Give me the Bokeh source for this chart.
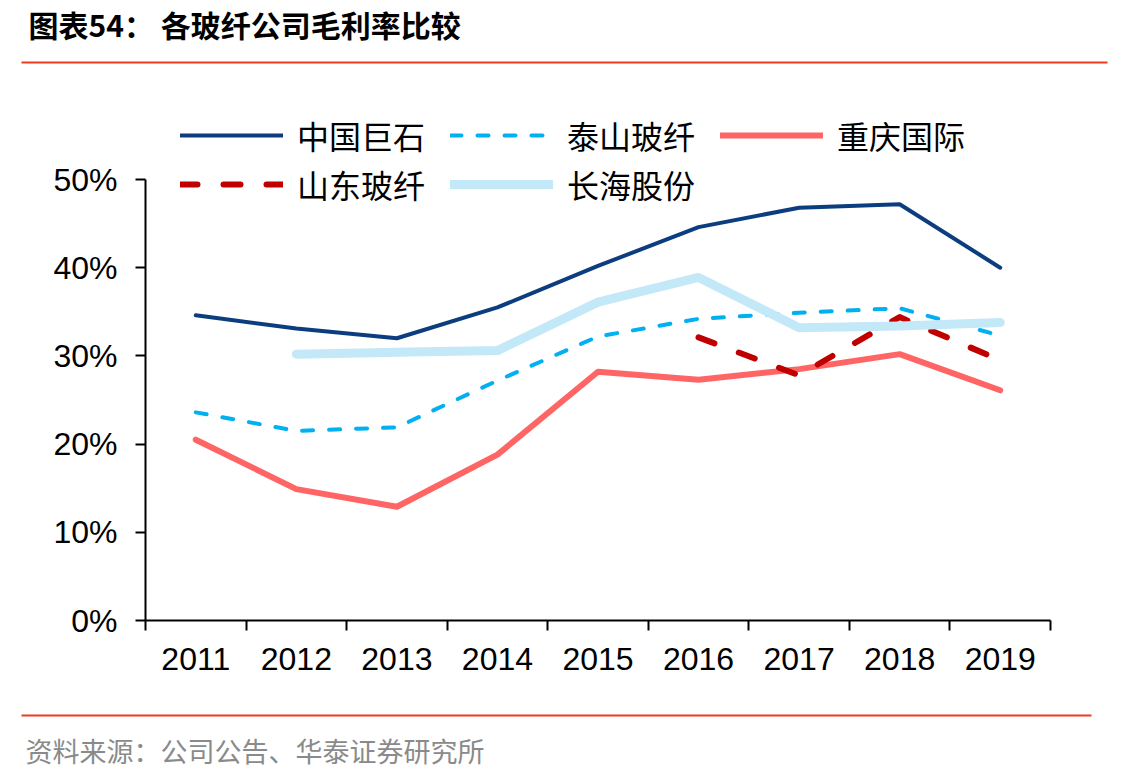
from bokeh.plotting import figure
from bokeh.layouts import column
from bokeh.models import (Range1d, FixedTicker, NumeralTickFormatter, Legend, LegendItem)
from bokeh.core.properties import value
from bokeh.embed import file_html
from bokeh.resources import INLINE

years = ["2011", "2012", "2013", "2014", "2015", "2016", "2017", "2018", "2019"]
jushi = [0.346, 0.331, 0.320, 0.355, 0.402, 0.446, 0.468, 0.472, 0.400]
taishan = [0.236, 0.215, 0.219, 0.272, 0.322, 0.342, 0.349, 0.354, 0.323]
chongqing = [0.205, 0.149, 0.129, 0.188, 0.282, 0.273, 0.285, 0.302, 0.261]
shandong = [None, None, None, None, None, 0.321, 0.278, 0.344, 0.295]
changhai = [None, 0.302, 0.304, 0.306, 0.361, 0.389, 0.332, 0.334, 0.338]
names = ["中国巨石", "泰山玻纤", "重庆国际", "山东玻纤", "长海股份"]
y_ticks = [0.0, 0.1, 0.2, 0.3, 0.4, 0.5]

title_text = "图表54：   各玻纤公司毛利率比较"
source_text = "资料来源：公司公告、华泰证券研究所"

CJK = "Noto Sans CJK SC"
LAT = "Liberation Sans"
RED = "#f03a1e"
W = 1137


def blank(h):
    f = figure(width=W, height=h, output_backend="svg", toolbar_location=None,
               x_range=Range1d(0, W), y_range=Range1d(h, 0),
               x_axis_location=None, y_axis_location=None,
               min_border=0, title=None)
    f.outline_line_color = None
    f.xgrid.visible = False
    f.ygrid.visible = False
    f.border_fill_color = "white"
    f.background_fill_color = "white"
    f.frame_align = False
    return f


# header: title + red rule
top = blank(70)
top.text(x=[28], y=[23], text=[title_text], text_font=value(CJK),
         text_font_size="30px", text_font_style="bold", text_color="black",
         text_baseline="middle", text_align="left")
top.segment(x0=[21], y0=[62], x1=[1107], y1=[62], line_color=RED, line_width=2)

# main chart
p = figure(width=W, height=640, output_backend="svg", toolbar_location=None,
           x_range=Range1d(0, len(years)), y_range=Range1d(0, 520 / 882),
           min_border_left=145, min_border_right=87, min_border_top=30,
           min_border_bottom=90, title=None)
p.outline_line_color = None
p.xgrid.visible = False
p.ygrid.visible = False
p.background_fill_color = "white"
p.border_fill_color = "white"
p.frame_align = False

xs = [i + 0.5 for i in range(len(years))]


def seg(vals):
    return [float("nan") if v is None else v for v in vals]


r1 = p.line(xs, jushi, line_color="#0c3d7e", line_width=4, line_join="round",
            line_cap="round")
r2 = p.line(xs, taishan, line_color="#00b0f0", line_width=4, line_dash="11 16",
            line_cap="round", line_join="round")
r3 = p.line(xs, chongqing, line_color="#ff6565", line_width=6, line_join="round",
            line_cap="round")
r4 = p.line(xs, seg(shandong), line_color="#c00000", line_width=6, line_dash="17 26",
            line_cap="round", line_join="round")
r5 = p.line(xs, seg(changhai), line_color="#c3e8f8", line_width=9, line_join="round",
            line_cap="round")

xa = p.xaxis[0]
xa.ticker = FixedTicker(ticks=xs, minor_ticks=list(range(len(years) + 1)))
xa.major_label_overrides = {x: y for x, y in zip(xs, years)}
xa.major_tick_out = 0
xa.major_tick_in = 0
xa.minor_tick_out = 10
xa.minor_tick_in = 0
xa.minor_tick_line_color = "black"
xa.minor_tick_line_width = 2
xa.axis_line_width = 2
xa.axis_line_color = "black"
xa.major_label_text_font = LAT
xa.major_label_text_font_size = "32px"
xa.major_label_text_color = "black"
xa.major_label_standoff = 17

ya = p.yaxis[0]
ya.ticker = FixedTicker(ticks=y_ticks, minor_ticks=[])
ya.formatter = NumeralTickFormatter(format="0%")
ya.bounds = (0, 0.5)
ya.major_tick_out = 10
ya.major_tick_in = 0
ya.major_tick_line_width = 2
ya.major_tick_line_color = "black"
ya.axis_line_width = 2
ya.axis_line_color = "black"
ya.major_label_text_font = LAT
ya.major_label_text_font_size = "32px"
ya.major_label_text_color = "black"
ya.major_label_standoff = 18

legend = Legend(items=[LegendItem(label=n, renderers=[r]) for n, r in
                       zip(names, [r1, r2, r3, r4, r5])],
                orientation="horizontal", ncols=3,
                location=(35, 413), glyph_width=103, glyph_height=30,
                label_standoff=14, label_width=150, spacing=3,
                label_text_font=CJK, label_text_font_size="32px",
                label_text_color="black", padding=0, margin=0,
                border_line_color=None, background_fill_alpha=0)
p.add_layout(legend, "center")

# footer: red rule + source
bot = blank(72)
bot.segment(x0=[21], y0=[5], x1=[1091], y1=[5], line_color=RED, line_width=2)
bot.text(x=[25], y=[40], text=[source_text], text_font=value(CJK),
         text_font_size="27px", text_color="#8a8a8a",
         text_baseline="middle", text_align="left")

layout = column(top, p, bot, spacing=0)
open("out.html", "w").write(file_html(layout, INLINE))
